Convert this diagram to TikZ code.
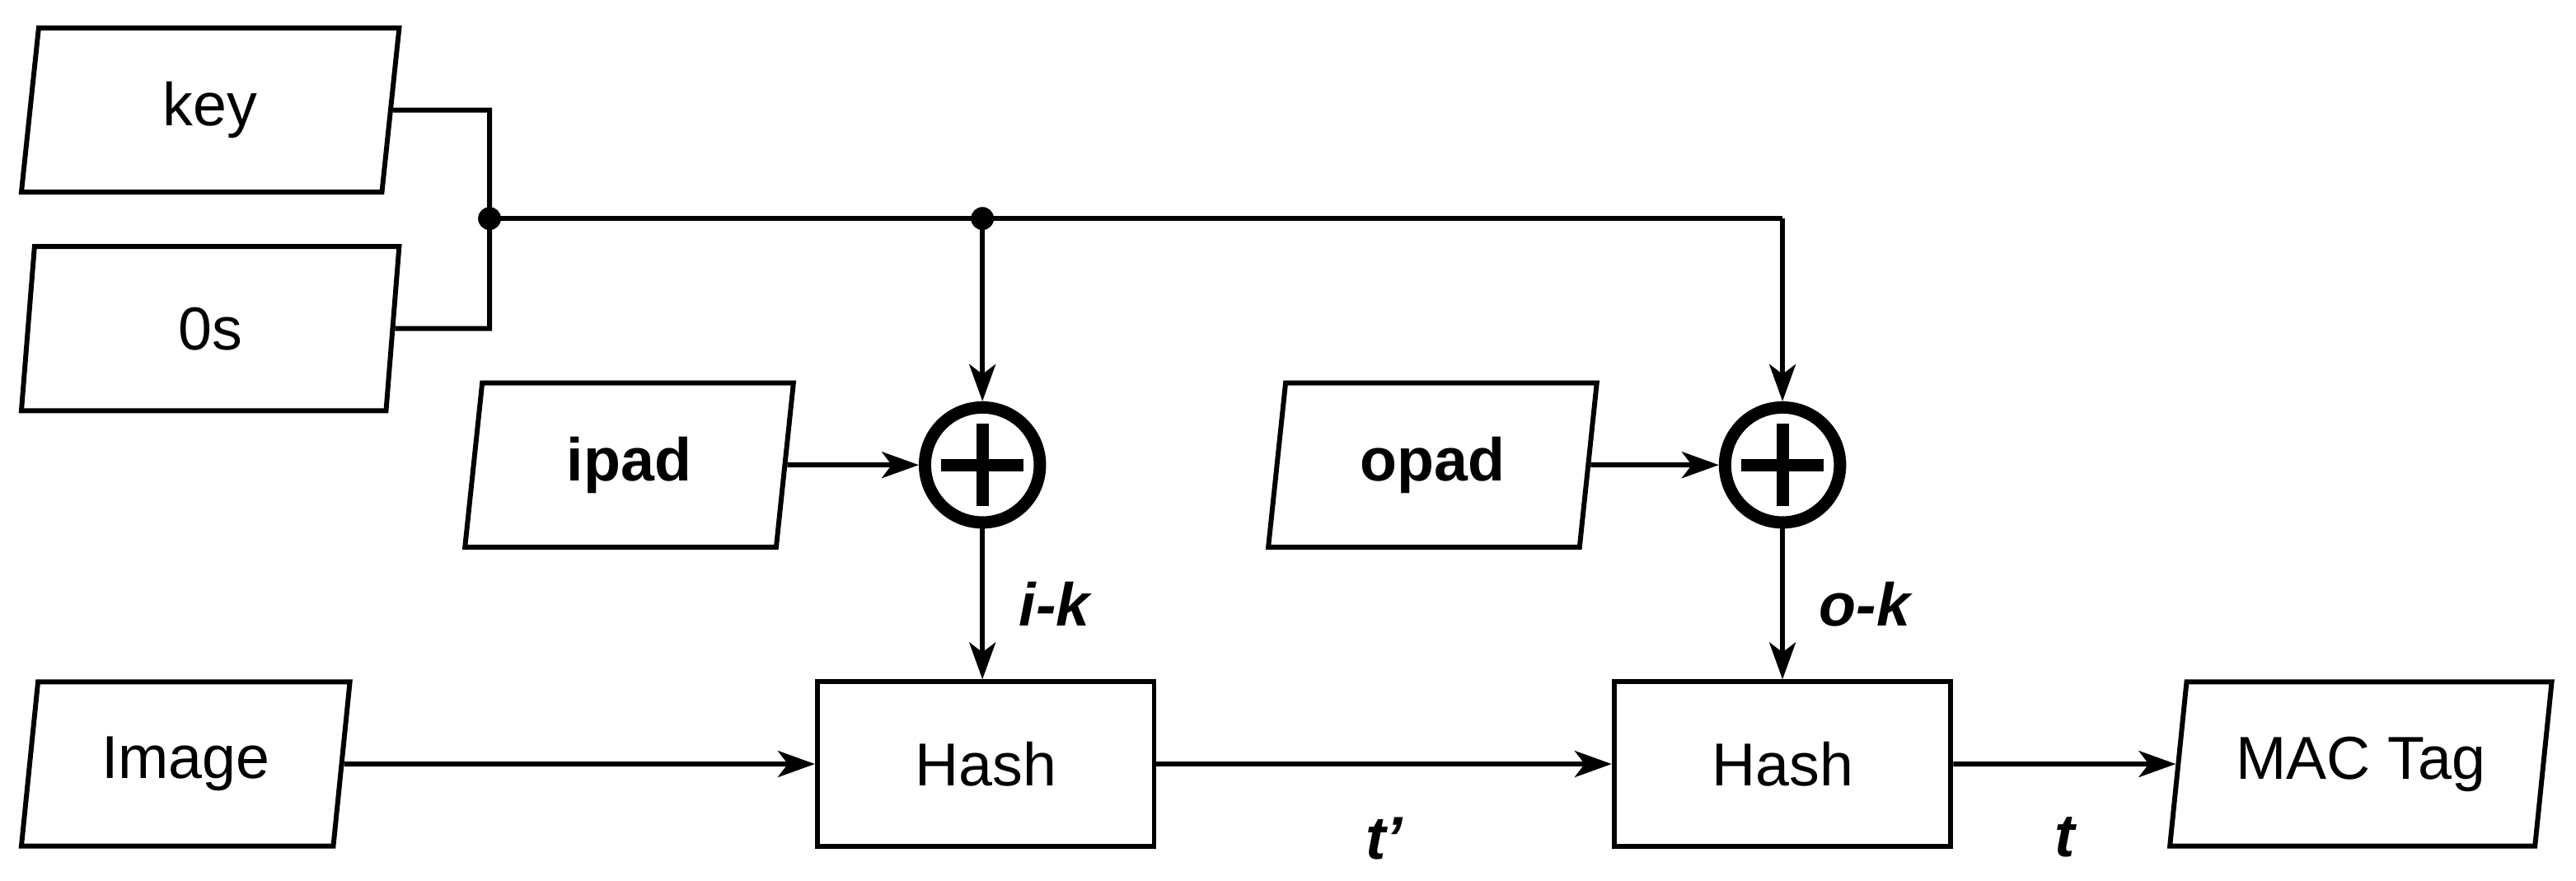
\documentclass[tikz,border=0pt]{standalone}
\usepackage{fontspec}
\setmainfont{Liberation Sans}
\usetikzlibrary{shapes.geometric,arrows.meta}
\begin{document}
\begin{tikzpicture}[x=0.02cm,y=-0.02cm,
  every node/.style={font=\fontsize{21}{24}\selectfont},
  para/.style={draw,line width=1.7pt,trapezium,trapezium left angle=73,trapezium right angle=107,trapezium stretches body,minimum height=2cm,inner sep=0pt},
  box/.style={draw,line width=1.7pt,minimum width=4.1cm,minimum height=2cm},
  ln/.style={line width=1.7pt},
  ar/.style={line width=1.7pt,-{Stealth[length=0.45cm,width=0.32cm,inset=0.12cm]}},
  xo/.style={circle,draw,line width=0.15cm,minimum size=1.4cm,inner sep=0pt,
    path picture={\draw[line width=0.15cm] (path picture bounding box.center) ++(-0.5cm,0) -- ++(1cm,0);
                  \draw[line width=0.15cm] (path picture bounding box.center) ++(0,-0.5cm) -- ++(0,1cm);}},
  lab/.style={font=\fontsize{21}{24}\selectfont\bfseries\itshape}]
\useasboundingbox (0,0) rectangle (1568,536);
\node[para,minimum width=4.6cm] (key) at (128,67) {key};
\node[para,minimum width=4.6cm] (zs) at (128,200) {0s};
\node[para,minimum width=4.0cm,font=\fontsize{21}{24}\selectfont\bfseries] (ipad) at (383,283) {ipad};
\node[para,minimum width=4.0cm,font=\fontsize{21}{24}\selectfont\bfseries] (opad) at (872,283) {opad};
\node[xo] (x1) at (598,283) {};
\node[xo] (x2) at (1085,283) {};
\node[box] (h1) at (600,465) {Hash};
\node[box] (h2) at (1085,465) {Hash};
\node[para,minimum width=4.0cm] (img) at (113,465) {Image};
\node[para,minimum width=4.65cm] (mac) at (1437,465) {MAC Tag};
\coordinate (j) at (298,133);
\coordinate (j2) at (598,133);
\coordinate (j3) at (1085,133);
\draw[ln] (key.east) -- (298,67) -- (298,200) -- (zs.east);
\draw[ln] (j) -- (j3);
\fill (j) circle (7);
\fill (j2) circle (7);
\draw[ar] (j2) -- (x1.north);
\draw[ar] (j3) -- (x2.north);
\draw[ar] (ipad.east) -- (x1.west);
\draw[ar] (opad.east) -- (x2.west);
\draw[ar] (x1.south) -- node[lab,right=0.3cm] {i-k} (x1.south|-h1.north);
\draw[ar] (x2.south) -- node[lab,right=0.3cm] {o-k} (x2.south|-h2.north);
\draw[ar] (img.east) -- (h1.west);
\draw[ar] (h1.east) -- node[lab,below=0.5cm] {t'} (h2.west);
\draw[ar] (h2.east) -- node[lab,below=0.5cm] {t} (mac.west);
\end{tikzpicture}
\end{document}
